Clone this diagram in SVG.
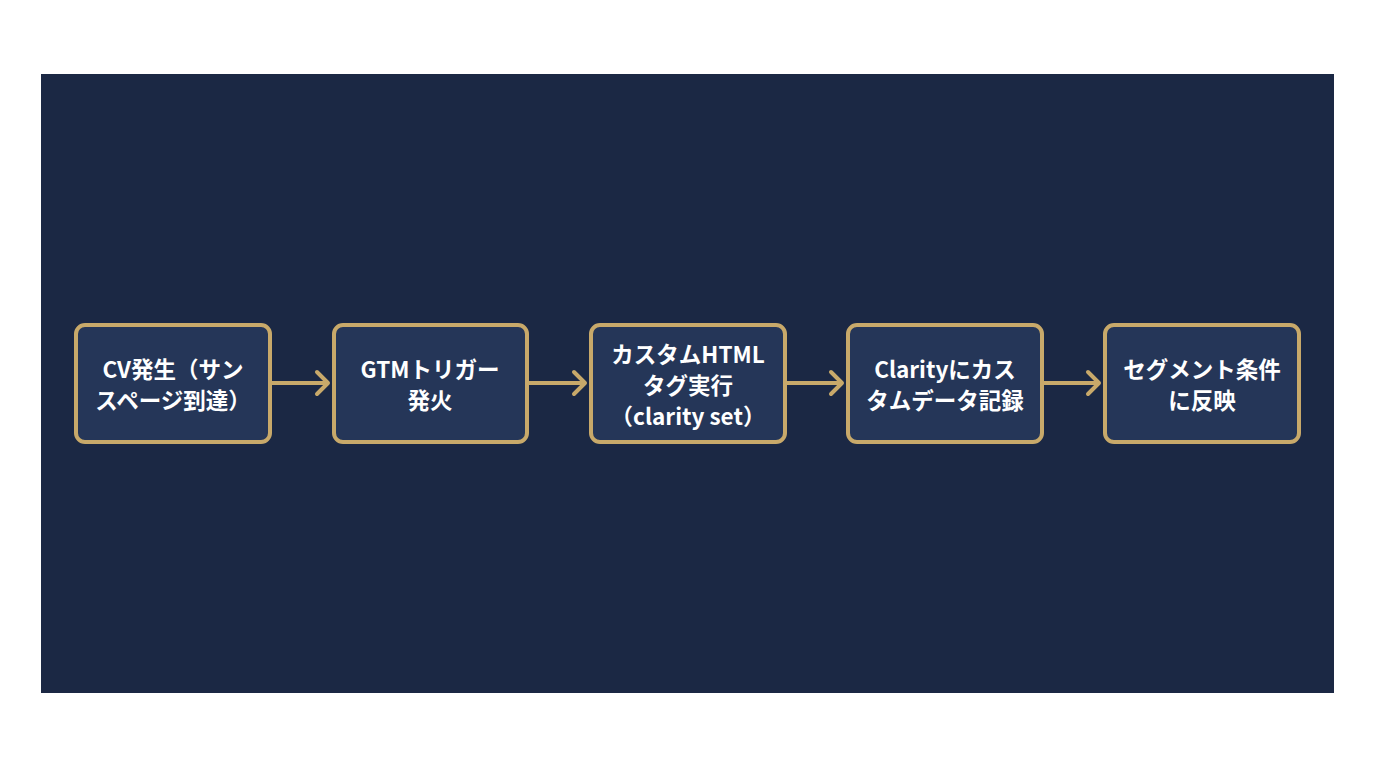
<svg xmlns="http://www.w3.org/2000/svg" width="1376" height="768" viewBox="0 0 1376 768">
<defs>
<style>
.node rect{fill:#253658;stroke:#c8a96a;stroke-width:4}
.node text{fill:#ffffff;font-family:"Noto Sans CJK JP","Noto Sans",sans-serif;font-weight:bold;font-size:22.5px;text-anchor:middle}
.conn line,.conn polyline{stroke:#c8a96a;stroke-width:4;fill:none;stroke-linecap:round;stroke-linejoin:round}
</style>
</defs>
<rect x="0" y="0" width="1376" height="768" fill="#ffffff"/>
<rect x="41" y="74" width="1293" height="619" fill="#1b2844"/>
<g class="conn">
<line x1="271" y1="383" x2="327" y2="383"/><polyline points="317,372 328,383 317,394"/>
<line x1="528" y1="383" x2="584" y2="383"/><polyline points="574,372 585,383 574,394"/>
<line x1="786" y1="383" x2="841" y2="383"/><polyline points="831,372 842,383 831,394"/>
<line x1="1043" y1="383" x2="1098" y2="383"/><polyline points="1088,372 1099,383 1088,394"/>
</g>
<g id="n1" class="node"><rect x="76" y="325" width="194" height="117" rx="9"/>
<text x="173" y="378">CV発生（サン</text><text x="173" y="409">スページ到達）</text></g>
<g id="n2" class="node"><rect x="334" y="325" width="193" height="117" rx="9"/>
<text x="430" y="378">GTMトリガー</text><text x="430" y="409">発火</text></g>
<g id="n3" class="node"><rect x="591" y="325" width="194" height="117" rx="9"/>
<text x="688" y="363">カスタムHTML</text><text x="688" y="394">タグ実行</text><text x="688" y="425">（clarity set）</text></g>
<g id="n4" class="node"><rect x="848" y="325" width="194" height="117" rx="9"/>
<text x="945" y="378">Clarityにカス</text><text x="945" y="409">タムデータ記録</text></g>
<g id="n5" class="node"><rect x="1105" y="325" width="194" height="117" rx="9"/>
<text x="1202" y="378">セグメント条件</text><text x="1202" y="409">に反映</text></g>
</svg>
